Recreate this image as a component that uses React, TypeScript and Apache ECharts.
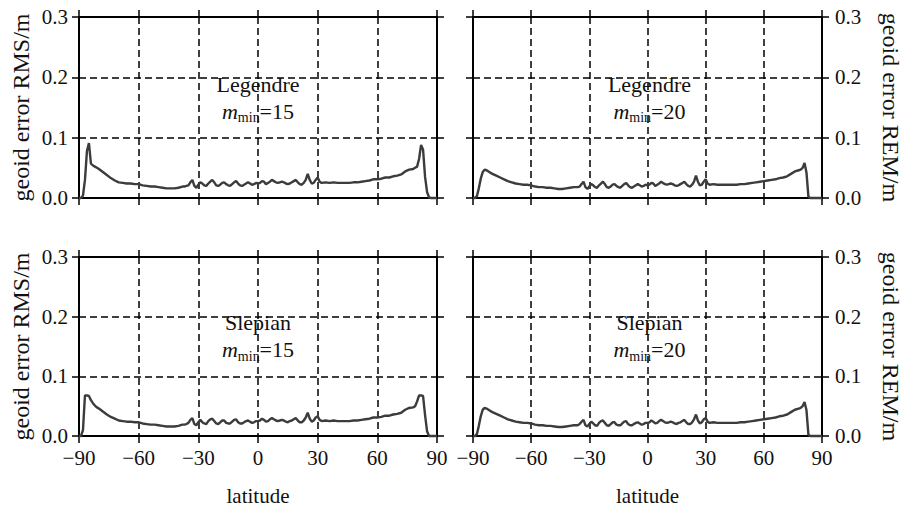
import React, { useEffect, useRef } from 'react';
import * as echarts from 'echarts';

// latitude samples (degrees)
const LAT = [
  -90, -89, -88, -87, -86, -85, -84, -83, -82, -81, -80,
  -78, -76, -74, -72, -70, -68, -66, -64, -62, -60, -58, -56, -54, -52, -50, -48, -46, -44, -42, -40, -38,
  -37, -36, -35, -34, -33, -32, -31, -30, -29, -28,
  -27, -26, -25, -24, -23, -22, -21, -20, -19, -18,
  -17, -16, -15, -14, -13, -12, -11, -10, -9, -8,
  -7, -6, -5, -4, -3, -2, -1, 0, 1, 2,
  3, 4, 5, 6, 7, 8, 9, 10, 11, 12,
  13, 14, 15, 16, 17, 18, 19, 20, 21, 22,
  23, 24, 25, 26, 27, 28, 29, 30, 31, 32,
  34, 36, 38, 40, 42, 44, 46, 48, 50, 52, 54, 56, 58, 60, 62, 64, 66, 68, 70, 72, 74, 76, 78,
  79, 80, 81, 82, 83, 84, 85, 86, 87, 88, 89, 90,
];

const LEGENDRE_15 = [
  0, 0, 0.004, 0.03, 0.078, 0.091, 0.057, 0.054, 0.052, 0.05, 0.048,
  0.043, 0.038, 0.033, 0.029, 0.026, 0.025, 0.024, 0.024, 0.023, 0.023, 0.021, 0.02, 0.019, 0.019, 0.018, 0.017, 0.016, 0.016, 0.016, 0.017, 0.019,
  0.019, 0.020, 0.021, 0.026, 0.030, 0.020, 0.017, 0.022, 0.026, 0.024,
  0.021, 0.020, 0.024, 0.027, 0.030, 0.026, 0.021, 0.020, 0.022, 0.025,
  0.026, 0.023, 0.021, 0.020, 0.023, 0.026, 0.028, 0.024, 0.021, 0.020,
  0.022, 0.024, 0.026, 0.024, 0.022, 0.023, 0.025, 0.024, 0.025, 0.028,
  0.027, 0.023, 0.025, 0.027, 0.030, 0.028, 0.026, 0.025, 0.026, 0.027,
  0.026, 0.024, 0.023, 0.024, 0.026, 0.028, 0.030, 0.026, 0.023, 0.022,
  0.025, 0.030, 0.040, 0.030, 0.024, 0.025, 0.030, 0.034, 0.027, 0.025,
  0.026, 0.025, 0.026, 0.025, 0.025, 0.025, 0.025, 0.026, 0.026, 0.027, 0.028, 0.029, 0.031, 0.031, 0.032, 0.034, 0.034, 0.036, 0.037, 0.039, 0.044, 0.047, 0.048,
  0.05, 0.052, 0.065, 0.088, 0.08, 0.035, 0.01, 0.001, 0, 0, 0, 0,
];

const LEGENDRE_20 = [
  0, 0, 0.003, 0.016, 0.032, 0.043, 0.047, 0.046, 0.044, 0.042, 0.04,
  0.037, 0.034, 0.031, 0.028, 0.026, 0.024, 0.023, 0.022, 0.022, 0.021, 0.019, 0.018, 0.018, 0.017, 0.017, 0.016, 0.015, 0.015, 0.016, 0.017, 0.018,
  0.018, 0.018, 0.019, 0.023, 0.027, 0.018, 0.015, 0.019, 0.023, 0.021,
  0.018, 0.017, 0.021, 0.024, 0.027, 0.023, 0.018, 0.017, 0.019, 0.022,
  0.023, 0.020, 0.018, 0.017, 0.020, 0.023, 0.025, 0.021, 0.018, 0.017,
  0.019, 0.021, 0.023, 0.021, 0.019, 0.020, 0.022, 0.021, 0.022, 0.025,
  0.024, 0.020, 0.022, 0.024, 0.027, 0.025, 0.023, 0.022, 0.023, 0.024,
  0.023, 0.021, 0.020, 0.021, 0.023, 0.025, 0.027, 0.023, 0.020, 0.019,
  0.022, 0.027, 0.037, 0.027, 0.021, 0.022, 0.027, 0.031, 0.024, 0.022,
  0.023, 0.022, 0.022, 0.022, 0.022, 0.022, 0.022, 0.023, 0.023, 0.024, 0.025, 0.026, 0.027, 0.028, 0.029, 0.03, 0.031, 0.033, 0.034, 0.036, 0.04, 0.044, 0.046,
  0.047, 0.05, 0.058, 0.042, 0.002, 0, 0, 0, 0, 0, 0, 0,
];

const SLEPIAN_15 = [
  0, 0, 0.01, 0.068, 0.068, 0.067, 0.06, 0.055, 0.051, 0.048, 0.046,
  0.041, 0.036, 0.032, 0.029, 0.026, 0.025, 0.024, 0.024, 0.023, 0.023, 0.021, 0.02, 0.019, 0.019, 0.018, 0.017, 0.016, 0.016, 0.016, 0.017, 0.019,
  0.019, 0.020, 0.022, 0.027, 0.030, 0.020, 0.018, 0.023, 0.027, 0.023,
  0.021, 0.020, 0.025, 0.028, 0.029, 0.025, 0.021, 0.020, 0.023, 0.026,
  0.026, 0.022, 0.021, 0.021, 0.024, 0.027, 0.028, 0.023, 0.021, 0.021,
  0.023, 0.025, 0.026, 0.024, 0.022, 0.023, 0.025, 0.025, 0.026, 0.029,
  0.027, 0.024, 0.025, 0.028, 0.030, 0.028, 0.026, 0.025, 0.026, 0.027,
  0.026, 0.024, 0.023, 0.025, 0.026, 0.028, 0.030, 0.026, 0.023, 0.023,
  0.026, 0.031, 0.039, 0.029, 0.024, 0.026, 0.031, 0.033, 0.027, 0.025,
  0.026, 0.025, 0.026, 0.025, 0.025, 0.025, 0.025, 0.026, 0.026, 0.027, 0.028, 0.029, 0.031, 0.031, 0.032, 0.034, 0.034, 0.036, 0.037, 0.039, 0.044, 0.047, 0.048,
  0.05, 0.058, 0.068, 0.068, 0.067, 0.035, 0.008, 0, 0, 0, 0, 0,
];

const SLEPIAN_20 = [
  0, 0, 0.003, 0.017, 0.033, 0.044, 0.047, 0.046, 0.044, 0.042, 0.04,
  0.037, 0.034, 0.031, 0.028, 0.026, 0.024, 0.023, 0.022, 0.022, 0.021, 0.019, 0.018, 0.018, 0.017, 0.017, 0.016, 0.015, 0.015, 0.016, 0.017, 0.018,
  0.018, 0.018, 0.020, 0.024, 0.027, 0.018, 0.016, 0.020, 0.024, 0.021,
  0.018, 0.017, 0.022, 0.025, 0.026, 0.022, 0.018, 0.017, 0.020, 0.023,
  0.023, 0.019, 0.018, 0.018, 0.021, 0.024, 0.025, 0.020, 0.018, 0.018,
  0.020, 0.022, 0.023, 0.021, 0.019, 0.020, 0.022, 0.022, 0.023, 0.026,
  0.024, 0.021, 0.022, 0.025, 0.027, 0.025, 0.023, 0.022, 0.023, 0.024,
  0.023, 0.021, 0.020, 0.022, 0.023, 0.025, 0.027, 0.023, 0.020, 0.020,
  0.023, 0.028, 0.036, 0.026, 0.021, 0.023, 0.028, 0.030, 0.024, 0.022,
  0.023, 0.022, 0.022, 0.022, 0.022, 0.022, 0.022, 0.023, 0.023, 0.024, 0.025, 0.026, 0.027, 0.028, 0.029, 0.03, 0.031, 0.033, 0.034, 0.036, 0.04, 0.044, 0.046,
  0.047, 0.05, 0.057, 0.043, 0.002, 0, 0, 0, 0, 0, 0, 0,
];

const X_MIN = -90;
const X_MAX = 90;
const X_STEP = 30;
const Y_MIN = 0;
const Y_MAX = 0.3;
const Y_STEP = 0.1;

const PANEL_TITLES = ['Legendre', 'Legendre', 'Slepian', 'Slepian'];
const PANEL_MMIN = ['15', '20', '15', '20'];
const PANEL_VALUES = [LEGENDRE_15, LEGENDRE_20, SLEPIAN_15, SLEPIAN_20];
const LABEL_POS: [number, number][] = [[0, 0.166], [1, 0.166], [0, 0.167], [1, 0.167]];

const Y_NAME_LEFT = 'geoid error RMS/m';
const Y_NAME_RIGHT = 'geoid error REM/m';
const X_NAME = 'latitude';

// layout
const GRIDS = [
  { left: 79, top: 17, width: 358, height: 181 },
  { left: 473, top: 17, width: 358, height: 181 },
  { left: 79, top: 257, width: 358, height: 180 },
  { left: 473, top: 257, width: 358, height: 180 },
];

const FONT = "'Liberation Serif', 'Times New Roman', serif";
const INK = '#111';

export default function App() {
  const ref = useRef<HTMLDivElement>(null);

  useEffect(() => {
    if (!ref.current) return;
    const chart = echarts.init(ref.current, undefined, { renderer: 'svg' });

    const axisLine = { show: true, onZero: false, lineStyle: { color: '#000', width: 2 } };
    const axisTick = { show: true, length: 7, lineStyle: { color: '#000', width: 1.5 } };
    const dash = { show: true, lineStyle: { color: '#000', width: 1.5, type: [7, 4] as any } };
    const xFmt = (v: number) => (v < 0 ? '\u2212' + Math.abs(v) : String(v));
    const yFmt = (v: number) => v.toFixed(1);

    const xAxes: any[] = [];
    const yAxes: any[] = [];
    const series: any[] = [];

    GRIDS.forEach((_, p) => {
      const isBottom = p >= 2;
      const isRight = p % 2 === 1;
      const base = { type: 'value', gridIndex: p, min: X_MIN, max: X_MAX, interval: X_STEP };
      xAxes.push({
        ...base,
        position: 'bottom',
        axisLine,
        axisTick,
        splitLine: dash,
        axisLabel: {
          show: isBottom, margin: 11, fontSize: 21, fontFamily: FONT, color: INK, formatter: xFmt,
          showMinLabel: true, showMaxLabel: true,
        },
        name: isBottom ? X_NAME : '',
        nameLocation: 'middle',
        nameGap: 49,
        nameTextStyle: { fontSize: 21, fontFamily: FONT, color: INK },
      });
      xAxes.push({
        ...base,
        position: 'top',
        axisLine,
        axisTick,
        splitLine: { show: false },
        axisLabel: { show: false },
      });
      const ybase = { type: 'value', gridIndex: p, min: Y_MIN, max: Y_MAX, interval: Y_STEP };
      yAxes.push({
        ...ybase,
        position: 'left',
        axisLine,
        axisTick,
        splitLine: dash,
        axisLabel: { show: !isRight, margin: 11, fontSize: 21, fontFamily: FONT, color: INK, formatter: yFmt },
        name: isRight ? '' : Y_NAME_LEFT,
        nameLocation: 'middle',
        nameGap: 46,
        nameTextStyle: { fontSize: 24, fontFamily: FONT, color: INK },
      });
      yAxes.push({
        ...ybase,
        position: 'right',
        axisLine,
        axisTick,
        splitLine: { show: false },
        axisLabel: { show: isRight, margin: 13, fontSize: 21, fontFamily: FONT, color: INK, formatter: yFmt },
        name: isRight ? Y_NAME_RIGHT : '',
        nameLocation: 'middle',
        nameRotate: -90,
        nameGap: 57,
        nameTextStyle: { fontSize: 24, fontFamily: FONT, color: INK },
      });

      const vals = PANEL_VALUES[p];
      series.push({
        type: 'line',
        xAxisIndex: 2 * p,
        yAxisIndex: 2 * p,
        data: LAT.map((x, i) => [x, vals[i]]),
        showSymbol: false,
        symbol: 'none',
        lineStyle: { color: '#3c3c3c', width: 2.4 },
        clip: false,
        silent: true,
        z: 3,
        markPoint: {
          symbol: 'circle',
          symbolSize: 0,
          silent: true,
          data: [
            {
              coord: LABEL_POS[p],
              label: {
                show: true,
                position: 'inside',
                formatter: `{t|${PANEL_TITLES[p]}}\n{i|m}{s|min}{n|=${PANEL_MMIN[p]}}`,
                rich: {
                  t: { fontSize: 22, fontFamily: FONT, color: INK, lineHeight: 27 },
                  i: { fontSize: 22, fontFamily: FONT, fontStyle: 'italic', color: INK, lineHeight: 27 },
                  s: { fontSize: 14, fontFamily: FONT, color: INK, lineHeight: 27, verticalAlign: 'bottom' },
                  n: { fontSize: 22, fontFamily: FONT, color: INK, lineHeight: 27 },
                },
              },
            },
          ],
        },
      });
    });

    chart.setOption({
      animation: false,
      backgroundColor: '#fff',
      grid: GRIDS.map((g) => ({ ...g, containLabel: false })),
      xAxis: xAxes,
      yAxis: yAxes,
      series,
    });

    return () => chart.dispose();
  }, []);

  return <div ref={ref} style={{ position: 'fixed', left: 0, top: 0, width: 904, height: 507 }} />;
}
